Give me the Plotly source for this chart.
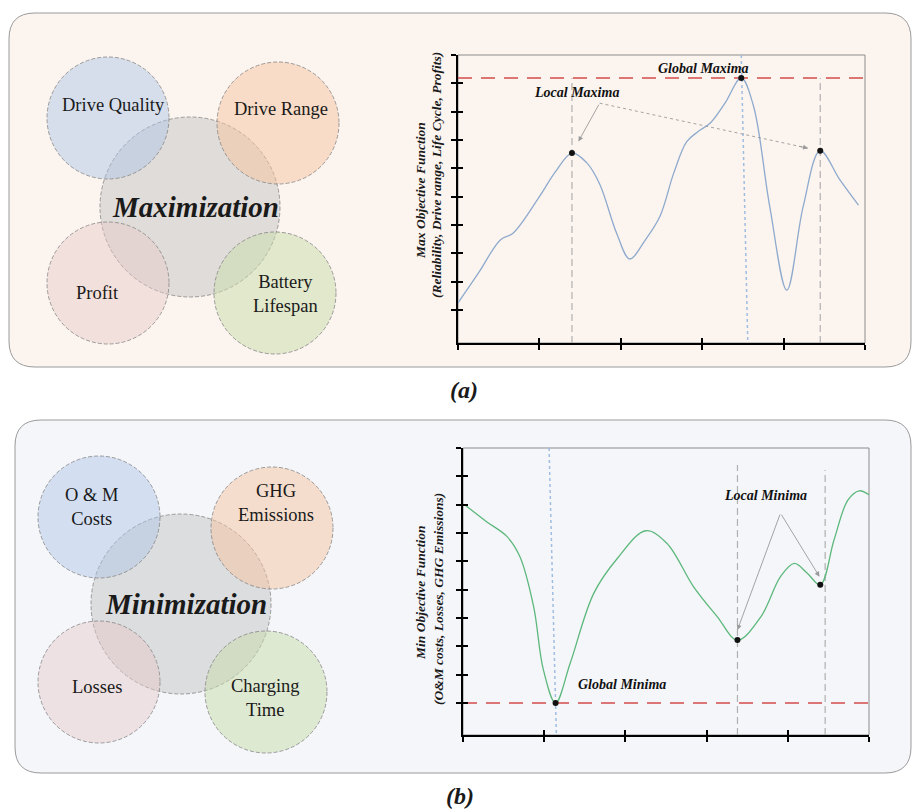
import plotly.graph_objects as go

W, H = 912, 812
SERIF = "Liberation Serif"

# ---------------- data ----------------
# (a) maximisation curve
max_x = [0.0, 0.25, 0.52, 0.68, 1.0, 1.2, 1.40, 1.58, 1.74, 1.95, 2.11, 2.3, 2.48,
         2.65, 2.81, 2.95, 3.1, 3.28, 3.48, 3.63, 3.83, 4.04, 4.24, 4.45, 4.69, 4.92]
max_y = [0.25, 1.3, 2.47, 2.72, 4.0, 4.89, 5.54, 5.2, 4.45, 2.7, 1.8, 2.47, 3.3,
         4.83, 5.94, 6.3, 6.6, 7.3, 8.19, 7.2, 3.65, 0.7, 3.65, 5.62, 4.6, 3.7]
max_points_x = [1.40, 3.48, 4.45]
max_points_y = [5.54, 8.19, 5.62]
max_global_level = 8.19
max_local_guides_x = [1.40, 4.45]
max_global_guide_x = [3.48, 3.56]
max_arrow_tail = (1.74, 7.3)
max_arrow_heads_x = [1.48, 4.30]
max_arrow_heads_y = [5.95, 5.71]

# (b) minimisation curve
min_x = [0.02, 0.29, 0.54, 0.70, 0.87, 0.99, 1.14, 1.32, 1.61, 1.90, 2.25, 2.51,
         2.84, 3.13, 3.38, 3.67, 3.91, 4.08, 4.24, 4.40, 4.57, 4.74, 4.88, 5.0]
min_y = [7.0, 6.4, 5.88, 5.17, 3.4, 1.17, 0.0, 1.4, 3.87, 5.1, 6.08, 5.64,
         4.1, 3.05, 2.22, 3.05, 4.46, 4.93, 4.58, 4.17, 5.76, 7.16, 7.49, 7.35]
min_points_x = [1.14, 3.38, 4.40]
min_points_y = [0.0, 2.22, 4.17]
min_global_level = 0.0
min_local_guides_x = [3.38, 4.46]
min_local_guides_top = [8.4, 8.22]
min_global_guide_x = [1.06, 1.15]
min_arrow_tail = (3.91, 6.7)
min_arrow_heads_x = [3.38, 4.39]
min_arrow_heads_y = [2.58, 4.46]

x_ticks = [0, 1, 2, 3, 4, 5]
y_ticks = [0, 1, 2, 3, 4, 5, 6, 7, 8, 9]

max_labels = ["Drive Quality", "Drive Range", "Profit", "Battery<br>Lifespan"]
min_labels = ["O & M<br>Costs", "GHG<br>Emissions", "Losses", "Charging<br>Time"]
circle_colors = ["rgba(170,195,230,0.45)", "rgba(246,196,160,0.5)",
                 "rgba(230,200,200,0.45)", "rgba(200,220,170,0.5)"]
center_color = "rgba(195,195,195,0.5)"


def PX(px):
    return px / W


def PY(py):
    return 1 - py / H


fig = go.Figure()
shapes = []
annotations = []


def rounded_panel(x0, y0, x1, y1, r, fill):
    rx, ry = r / W, r / H
    X0, X1, Yt, Yb = PX(x0), PX(x1), PY(y0), PY(y1)
    path = (f"M {X0+rx},{Yt} L {X1-rx},{Yt} Q {X1},{Yt} {X1},{Yt-ry} "
            f"L {X1},{Yb+ry} Q {X1},{Yb} {X1-rx},{Yb} L {X0+rx},{Yb} "
            f"Q {X0},{Yb} {X0},{Yb+ry} L {X0},{Yt-ry} Q {X0},{Yt} {X0+rx},{Yt} Z")
    shapes.append(dict(type="path", path=path, xref="paper", yref="paper",
                       fillcolor=fill, line=dict(color="#9a9a9a", width=1),
                       layer="below"))


def circle(cx, cy, r, fill):
    shapes.append(dict(type="circle", xref="paper", yref="paper",
                       x0=PX(cx - r), x1=PX(cx + r), y0=PY(cy + r), y1=PY(cy - r),
                       fillcolor=fill,
                       line=dict(color="#858585", width=0.8, dash="4px,2px"),
                       layer="below"))


def text(px, py, s, size=17, bold_italic=False, angle=0):
    if bold_italic:
        s = f"<b><i>{s}</i></b>"
    annotations.append(dict(x=PX(px), y=PY(py), xref="paper", yref="paper", text=s,
                            showarrow=False, textangle=angle,
                            font=dict(family=SERIF, size=size, color="#1a1a1a"),
                            xanchor="center", yanchor="middle"))


# panels
rounded_panel(9, 13, 911, 367, 26, "#fcf4ef")
rounded_panel(15, 420, 911, 773, 26, "#f5f6fa")

# Venn-style diagrams
venn_layouts = [
    dict(small=[(108, 118), (278, 123), (108, 283), (275, 293)], center=(190, 207),
         labels=max_labels, label_pos=[(113, 105), (281, 109), (97, 293), (285, 294)],
         title="Maximization", title_pos=(195, 207)),
    dict(small=[(99, 517), (272, 528), (99, 682), (266, 692)], center=(181, 604),
         labels=min_labels, label_pos=[(91, 507), (276, 503), (97, 687), (265, 698)],
         title="Minimization", title_pos=(186, 604)),
]
for v in venn_layouts:
    circle(v["center"][0], v["center"][1], 90, center_color)
    for (cx, cy), col in zip(v["small"], circle_colors):
        circle(cx, cy, 61, col)
    for (lx, ly), lab in zip(v["label_pos"], v["labels"]):
        text(lx, ly, lab, size=18.5)
    text(v["title_pos"][0], v["title_pos"][1], v["title"], size=29, bold_italic=True)

# captions
text(464, 390, "(a)", size=24, bold_italic=True)
text(460, 796, "(b)", size=24, bold_italic=True)

# axis titles
text(420, 191, "Max Objective Function", size=13.5, bold_italic=True, angle=-90)
text(437, 175, "(Reliability, Drive range, Life Cycle, Profits)", size=13.5,
     bold_italic=True, angle=-90)
text(420, 593, "Min Objective Function", size=13.5, bold_italic=True, angle=-90)
text(438, 599, "(O&M costs, Losses, GHG Emissions)", size=13.5, bold_italic=True, angle=-90)

# ---------------- charts ----------------
RED = "#d24b4b"
GUIDE = "#b0b0b0"
BLUE_DOT = "#9fbde0"
ARROW = "#9a9a9a"

charts = [
    dict(xa="x", ya="y", xo="x3", yo="y3", ymin=-1.165,
         cx=max_x, cy=max_y, color="#8eaacd",
         px=max_points_x, py=max_points_y, level=max_global_level,
         guides=[(g, 8.19) for g in max_local_guides_x],
         gguide=max_global_guide_x,
         tail=max_arrow_tail, hx=max_arrow_heads_x, hy=max_arrow_heads_y,
         dotted=[False, True],
         labels=[(3.01, 8.54, "Global Maxima"), (1.46, 7.66, "Local Maxima")]),
    dict(xa="x2", ya="y2", xo="x4", yo="y4", ymin=-1.13,
         cx=min_x, cy=min_y, color="#5db87c",
         px=min_points_x, py=min_points_y, level=min_global_level,
         guides=list(zip(min_local_guides_x, min_local_guides_top)),
         gguide=min_global_guide_x,
         tail=min_arrow_tail, hx=min_arrow_heads_x, hy=min_arrow_heads_y,
         dotted=[False, False],
         labels=[(1.96, 0.64, "Global Minima"), (3.73, 7.34, "Local Minima")]),
]

for c in charts:
    xa, ya = c["xa"], c["ya"]
    ymin = c["ymin"]
    # red dashed level
    fig.add_trace(go.Scatter(x=[0, 5], y=[c["level"], c["level"]], mode="lines",
                             line=dict(color=RED, width=1.6, dash="14px,9px"),
                             xaxis=xa, yaxis=ya, hoverinfo="skip", showlegend=False))
    # grey dashed local guides
    for gx, gtop in c["guides"]:
        fig.add_trace(go.Scatter(x=[gx, gx], y=[ymin, gtop], mode="lines",
                                 line=dict(color=GUIDE, width=1.2, dash="7px,4px"),
                                 xaxis=xa, yaxis=ya, hoverinfo="skip", showlegend=False))
    # blue dotted global guide
    fig.add_trace(go.Scatter(x=[c["gguide"][0], c["gguide"][1]], y=[9, ymin], mode="lines",
                             line=dict(color=BLUE_DOT, width=1.5, dash="dot"),
                             xaxis=xa, yaxis=ya, hoverinfo="skip", showlegend=False))
    # curve
    fig.add_trace(go.Scatter(x=c["cx"], y=c["cy"], mode="lines",
                             line=dict(color=c["color"], width=1.3, shape="spline",
                                       smoothing=1.0),
                             xaxis=xa, yaxis=ya, hoverinfo="skip", showlegend=False))
    # extremum markers
    fig.add_trace(go.Scatter(x=c["px"], y=c["py"], mode="markers",
                             marker=dict(color="#111111", size=6),
                             xaxis=xa, yaxis=ya, hoverinfo="skip", showlegend=False))
    # arrows
    tx, ty = c["tail"]
    for hx, hy, dotted in zip(c["hx"], c["hy"], c["dotted"]):
        if dotted:
            fig.add_trace(go.Scatter(x=[tx, hx], y=[ty, hy], mode="lines",
                                     line=dict(color=ARROW, width=0.9, dash="dot"),
                                     xaxis=xa, yaxis=ya, hoverinfo="skip",
                                     showlegend=False))
            atx, aty = hx + (tx - hx) * 0.05, hy + (ty - hy) * 0.05
        else:
            atx, aty = tx, ty
        annotations.append(dict(x=hx, y=hy, ax=atx, ay=aty, xref=xa, yref=ya,
                                axref=xa, ayref=ya, text="", showarrow=True,
                                arrowhead=2, arrowsize=1.1, arrowwidth=0.9,
                                arrowcolor=ARROW))
    for lx, ly, s in c["labels"]:
        annotations.append(dict(x=lx, y=ly, xref=xa, yref=ya, text=f"<b><i>{s}</i></b>",
                                showarrow=False,
                                font=dict(family=SERIF, size=14, color="#111111")))
    # border box (top / right thin lines)
    shapes.append(dict(type="rect", xref=f"{xa} domain", yref=f"{ya} domain",
                       x0=0, x1=1, y0=0, y1=1, line=dict(color="#8c8c8c", width=1),
                       layer="below"))
    # dummy traces so overlay axes (inside half of crossing ticks) are drawn
    fig.add_trace(go.Scatter(x=[None], y=[None], xaxis=c["xo"], yaxis=ya,
                             showlegend=False, hoverinfo="skip"))
    fig.add_trace(go.Scatter(x=[None], y=[None], xaxis=xa, yaxis=c["yo"],
                             showlegend=False, hoverinfo="skip"))

axis_common = dict(showgrid=False, zeroline=False, showticklabels=False,
                   tickcolor="#000000", tickwidth=2, ticklen=5)

top_xd = [PX(458), PX(865)]
top_yd = [PY(343), PY(55)]
bot_xd = [PX(463), PX(869)]
bot_yd = [PY(735), PY(448)]

main_line = dict(showline=True, linecolor="#000000", linewidth=2, ticks="outside")
over = dict(showline=False, ticks="inside")

fig.update_layout(
    width=W, height=H, margin=dict(l=0, r=0, t=0, b=0),
    paper_bgcolor="#ffffff", plot_bgcolor="rgba(0,0,0,0)",
    showlegend=False,
    xaxis=dict(domain=top_xd, range=[0, 5], anchor="y", tickvals=x_ticks,
               **main_line, **axis_common),
    yaxis=dict(domain=top_yd, range=[-1.165, 9], anchor="x", tickvals=y_ticks,
               **main_line, **axis_common),
    xaxis3=dict(domain=top_xd, range=[0, 5], anchor="y", overlaying="x", side="bottom",
                tickvals=x_ticks, **over, **axis_common),
    yaxis3=dict(domain=top_yd, range=[-1.165, 9], anchor="x", overlaying="y", side="left",
                tickvals=y_ticks, **over, **axis_common),
    xaxis2=dict(domain=bot_xd, range=[0, 5], anchor="y2", tickvals=x_ticks,
                **main_line, **axis_common),
    yaxis2=dict(domain=bot_yd, range=[-1.13, 9], anchor="x2", tickvals=y_ticks,
                **main_line, **axis_common),
    xaxis4=dict(domain=bot_xd, range=[0, 5], anchor="y2", overlaying="x2", side="bottom",
                tickvals=x_ticks, **over, **axis_common),
    yaxis4=dict(domain=bot_yd, range=[-1.13, 9], anchor="x2", overlaying="y2", side="left",
                tickvals=y_ticks, **over, **axis_common),
    shapes=shapes,
    annotations=annotations,
)

fig.write_html("out.html")
